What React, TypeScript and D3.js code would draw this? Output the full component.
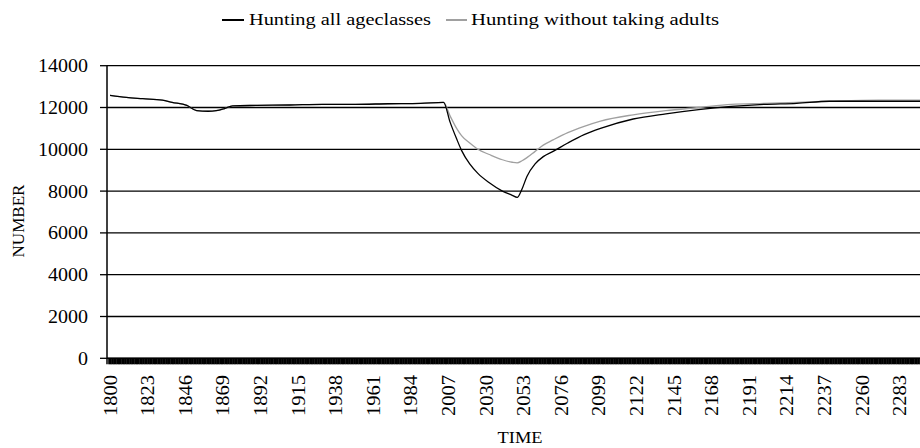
import React from "react";
import * as d3 from "d3";

const years = [1800, 1810, 1820, 1832, 1838, 1847, 1853, 1860, 1865, 1870, 1875, 1890, 1910, 1930, 1950, 1970, 1990, 2004, 2008, 2012, 2015, 2020, 2025, 2032, 2040, 2046, 2049, 2052, 2055, 2060, 2065, 2071, 2080, 2090, 2100, 2120, 2140, 2160, 2180, 2200, 2220, 2240, 2270, 2300];
const huntingAll = [12580, 12480, 12420, 12350, 12250, 12100, 11850, 11820, 11850, 11950, 12080, 12100, 12120, 12150, 12150, 12180, 12200, 12250, 11300, 10500, 9950, 9300, 8850, 8400, 8000, 7800, 7700, 8100, 8700, 9300, 9650, 9900, 10300, 10700, 11000, 11450, 11700, 11900, 12050, 12150, 12200, 12300, 12300, 12300];
const huntingNoAdults = [12580, 12480, 12420, 12350, 12250, 12100, 11850, 11820, 11850, 11950, 12080, 12100, 12120, 12150, 12150, 12180, 12200, 12250, 11600, 11000, 10650, 10300, 10000, 9750, 9500, 9380, 9350, 9450, 9600, 9900, 10200, 10450, 10800, 11100, 11350, 11650, 11850, 12000, 12150, 12200, 12250, 12300, 12350, 12350];
const seriesNames = ["Hunting all ageclasses", "Hunting without taking adults"];
const seriesColors = ["#000000", "#a0a0a0"];
const yTicks = [0, 2000, 4000, 6000, 8000, 10000, 12000, 14000];
const xLabelYears = d3.range(1800, 2300, 23);

export default function App() {
  const W = 920, H = 448;
  const left = 107, right = 920, top = 65.7, bottom = 358.3;
  const x = d3.scaleLinear().domain([1800, 2300]).range([110, 110 + 500 * 1.635]);
  const y = d3.scaleLinear().domain([0, 14000]).range([bottom, top]);
  const line = d3.line<number>().x((_, i) => x(years[i])).y((v) => y(v)).curve(d3.curveMonotoneX);
  const allYears = d3.range(1800, 2300);
  const font = "'Liberation Serif', 'DejaVu Serif', serif";
  return (
    <svg width={W} height={H} style={{ position: "absolute", left: 0, top: 0, background: "#fff" }}>
      <rect x={0} y={0} width={W} height={H} fill="#fff" />
      {/* legend */}
      <g fontFamily={font} fontSize={16} fill="#000">
        <line x1={222} x2={244} y1={20} y2={20} stroke={seriesColors[0]} strokeWidth={2} />
        <text x={249} y={25} textLength={182} lengthAdjust="spacingAndGlyphs">{seriesNames[0]}</text>
        <line x1={446} x2={467} y1={20} y2={20} stroke={seriesColors[1]} strokeWidth={2} />
        <text x={471} y={25} textLength={248} lengthAdjust="spacingAndGlyphs">{seriesNames[1]}</text>
      </g>
      {/* gridlines */}
      {yTicks.map((t) => (
        <g key={t}>
          <line x1={left} x2={right} y1={y(t)} y2={y(t)} stroke="#000" strokeWidth={1.3} />
          <line x1={100} x2={left} y1={y(t)} y2={y(t)} stroke="#000" strokeWidth={1.3} />
          <text
            x={88}
            y={y(t) + 6.5}
            textAnchor="end"
            fontFamily={font}
            fontSize={18}
            textLength={String(t).length * 10}
            lengthAdjust="spacingAndGlyphs"
          >
            {t}
          </text>
        </g>
      ))}
      {/* y axis */}
      <line x1={left} x2={left} y1={top} y2={bottom + 6} stroke="#000" strokeWidth={1.5} />
      {/* series */}
      <path d={line(huntingNoAdults) || ""} fill="none" stroke={seriesColors[1]} strokeWidth={1.3} />
      <path d={line(huntingAll) || ""} fill="none" stroke={seriesColors[0]} strokeWidth={1.3} />
      {/* x axis dense ticks */}
      <line x1={left} x2={right} y1={bottom} y2={bottom} stroke="#000" strokeWidth={1.5} />
      {allYears.map((yr) => (
        <line key={yr} x1={x(yr) - 0.8} x2={x(yr) - 0.8} y1={bottom} y2={bottom + 6} stroke="#000" strokeWidth={2} />
      ))}
      {xLabelYears.map((yr) => (
        <text
          key={yr}
          transform={`translate(${x(yr) + 6.5},375) rotate(-90)`}
          textAnchor="end"
          fontFamily={font}
          fontSize={18}
          textLength={41}
          lengthAdjust="spacingAndGlyphs"
        >
          {yr}
        </text>
      ))}
      <text x={520} y={443} textAnchor="middle" fontFamily={font} fontSize={16} textLength={45} lengthAdjust="spacingAndGlyphs">TIME</text>
      <text transform="translate(24,221) rotate(-90)" textAnchor="middle" fontFamily={font} fontSize={16} textLength={73} lengthAdjust="spacingAndGlyphs">NUMBER</text>
    </svg>
  );
}
